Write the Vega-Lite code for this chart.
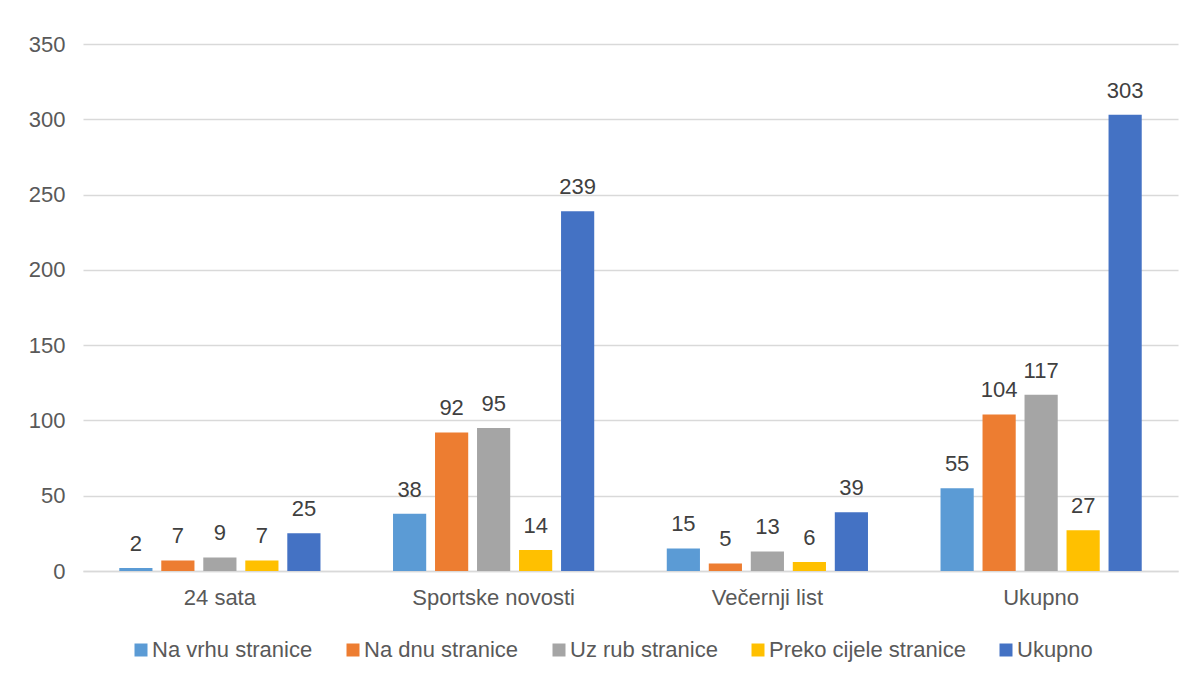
{
  "$schema": "https://vega.github.io/schema/vega-lite/v6.json",
  "autosize": {"type": "none"},
  "padding": {"left": 83, "top": 44, "right": 16, "bottom": 107},
  "width": 1095,
  "height": 527,
  "background": "white",
  "config": {
    "font": "Liberation Sans",
    "view": {"stroke": null},
    "axis": {"labelFont": "Liberation Sans", "labelFontSize": 22, "labelColor": "#595959", "ticks": false, "title": null},
    "legend": {"labelFont": "Liberation Sans", "labelFontSize": 22, "labelColor": "#595959", "labelLimit": 0}
  },
  "data": {
    "values": [
      {"grupa": "24 sata", "serija": "Na vrhu stranice", "vrijednost": 2},
      {"grupa": "24 sata", "serija": "Na dnu stranice", "vrijednost": 7},
      {"grupa": "24 sata", "serija": "Uz rub stranice", "vrijednost": 9},
      {"grupa": "24 sata", "serija": "Preko cijele stranice", "vrijednost": 7},
      {"grupa": "24 sata", "serija": "Ukupno", "vrijednost": 25},
      {"grupa": "Sportske novosti", "serija": "Na vrhu stranice", "vrijednost": 38},
      {"grupa": "Sportske novosti", "serija": "Na dnu stranice", "vrijednost": 92},
      {"grupa": "Sportske novosti", "serija": "Uz rub stranice", "vrijednost": 95},
      {"grupa": "Sportske novosti", "serija": "Preko cijele stranice", "vrijednost": 14},
      {"grupa": "Sportske novosti", "serija": "Ukupno", "vrijednost": 239},
      {"grupa": "Večernji list", "serija": "Na vrhu stranice", "vrijednost": 15},
      {"grupa": "Večernji list", "serija": "Na dnu stranice", "vrijednost": 5},
      {"grupa": "Večernji list", "serija": "Uz rub stranice", "vrijednost": 13},
      {"grupa": "Večernji list", "serija": "Preko cijele stranice", "vrijednost": 6},
      {"grupa": "Večernji list", "serija": "Ukupno", "vrijednost": 39},
      {"grupa": "Ukupno", "serija": "Na vrhu stranice", "vrijednost": 55},
      {"grupa": "Ukupno", "serija": "Na dnu stranice", "vrijednost": 104},
      {"grupa": "Ukupno", "serija": "Uz rub stranice", "vrijednost": 117},
      {"grupa": "Ukupno", "serija": "Preko cijele stranice", "vrijednost": 27},
      {"grupa": "Ukupno", "serija": "Ukupno", "vrijednost": 303}
    ]
  },
  "encoding": {
    "x": {
      "field": "grupa", "type": "nominal", "sort": null,
      "scale": {"paddingInner": 0.265, "paddingOuter": 0.1325},
      "axis": {"labelAngle": 0, "labelPadding": 16, "domainColor": "#d9d9d9", "domainWidth": 1.5, "grid": false}
    },
    "xOffset": {
      "field": "serija", "type": "nominal",
      "sort": ["Na vrhu stranice", "Na dnu stranice", "Uz rub stranice", "Preko cijele stranice", "Ukupno"],
      "scale": {"paddingInner": 0.21, "paddingOuter": 0}
    },
    "y": {
      "field": "vrijednost", "type": "quantitative",
      "scale": {"domain": [0, 350], "nice": false},
      "axis": {"values": [0, 50, 100, 150, 200, 250, 300, 350], "domain": false, "gridColor": "#d9d9d9", "gridWidth": 1.5, "labelPadding": 18}
    }
  },
  "layer": [
    {
      "mark": {"type": "bar"},
      "encoding": {
        "color": {
          "field": "serija", "type": "nominal",
          "sort": ["Na vrhu stranice", "Na dnu stranice", "Uz rub stranice", "Preko cijele stranice", "Ukupno"],
          "scale": {
            "domain": ["Na vrhu stranice", "Na dnu stranice", "Uz rub stranice", "Preko cijele stranice", "Ukupno"],
            "range": ["#5B9BD5", "#ED7D31", "#A5A5A5", "#FFC000", "#4472C4"]
          },
          "legend": {
            "title": null, "orient": "none", "direction": "horizontal", "legendX": 47, "legendY": 595,
            "symbolType": "square", "symbolSize": 169, "symbolStrokeWidth": 0,
            "labelOffset": 0, "columnPadding": 29
          }
        }
      }
    },
    {
      "mark": {"type": "text", "baseline": "alphabetic", "dy": -17, "fontSize": 22, "color": "#404040", "font": "Liberation Sans"},
      "encoding": {"text": {"field": "vrijednost", "type": "quantitative"}}
    }
  ]
}
